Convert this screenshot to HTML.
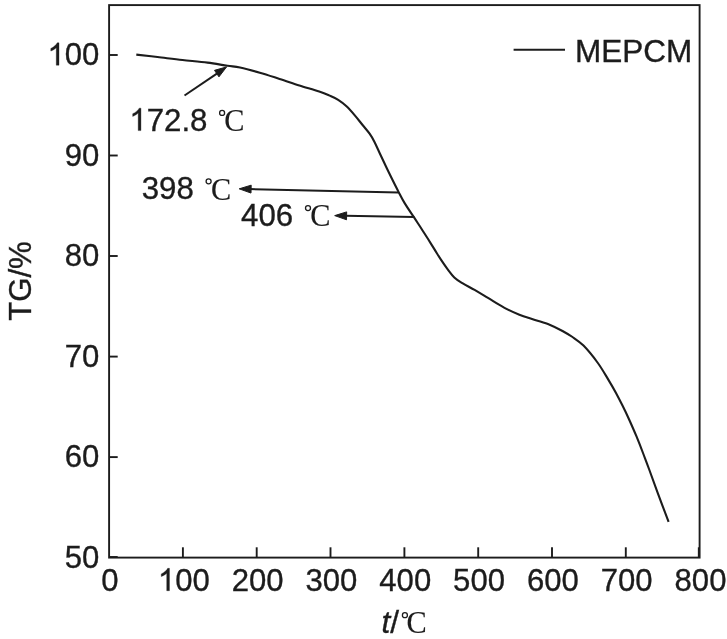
<!DOCTYPE html>
<html><head><meta charset="utf-8"><title>TG curve</title>
<style>
html,body{margin:0;padding:0;background:#fff;}
body{width:727px;height:639px;overflow:hidden;}
svg{display:block;will-change:transform;}
text{font-family:"Liberation Sans",sans-serif;fill:#1c1c1c;stroke:#1c1c1c;stroke-width:0.35px;font-kerning:none;}
.g{fill:#1c1c1c;stroke:#1c1c1c;stroke-width:22;}
.s{font-family:"Liberation Serif",serif;stroke-width:0.15px;}
.i{font-style:italic;}
.l{fill:none;stroke:#1c1c1c;stroke-width:1.9;}
.a{fill:#1c1c1c;stroke:#1c1c1c;stroke-width:1;stroke-linejoin:round;}
</style></head><body>
<svg width="727" height="639" viewBox="0 0 727 639">
<rect width="727" height="639" fill="#fff"/>
<g class="l">
<rect x="109.1" y="5.1" width="590.5" height="552.5"/>
<path d="M182.9,557.6 V547.3"/>
<path d="M256.7,557.6 V547.3"/>
<path d="M330.5,557.6 V547.3"/>
<path d="M404.4,557.6 V547.3"/>
<path d="M478.2,557.6 V547.3"/>
<path d="M552.0,557.6 V547.3"/>
<path d="M625.8,557.6 V547.3"/>
<path d="M109.1,457.1 H117.7"/>
<path d="M109.1,356.6 H117.7"/>
<path d="M109.1,256.0 H117.7"/>
<path d="M109.1,155.5 H117.7"/>
<path d="M109.1,55.0 H117.7"/>
<path d="M109.1,557.0 H117.7"/>
<path d="M698.8,557.6 V547.3"/>
</g>
<path class="l" style="stroke-width:2.1" d="M136.3,54.6 C139.8,55.0 149.8,56.1 157.5,57.0 C165.2,57.9 174.2,59.1 182.5,60.0 C190.8,60.9 200.0,61.6 207.5,62.6 C215.0,63.6 222.1,65.0 227.5,65.8 C232.9,66.6 234.6,66.3 240.0,67.5 C245.4,68.7 253.2,70.8 259.8,72.7 C266.4,74.6 273.0,76.8 279.6,78.9 C286.2,81.0 292.8,83.4 299.4,85.5 C306.0,87.6 314.2,89.9 319.2,91.6 C324.1,93.2 325.9,94.0 329.1,95.4 C332.3,96.8 335.3,98.0 338.2,99.8 C341.1,101.6 343.7,103.7 346.5,106.3 C349.3,108.9 352.1,112.2 354.8,115.4 C357.6,118.6 360.5,122.5 363.0,125.5 C365.5,128.6 367.7,130.9 369.6,133.7 C371.5,136.4 372.9,138.8 374.5,142.0 C376.1,145.2 377.6,148.6 379.5,152.7 C381.4,156.8 383.9,162.1 386.1,166.7 C388.3,171.3 390.7,176.2 392.7,180.3 C394.7,184.4 396.2,187.3 398.2,191.2 C400.2,195.0 402.2,199.1 404.8,203.4 C407.4,207.7 411.1,213.0 413.9,217.2 C416.6,221.4 419.0,224.9 421.3,228.5 C423.6,232.1 425.7,235.3 427.9,238.8 C430.1,242.3 432.3,245.9 434.5,249.4 C436.7,252.9 438.9,256.6 441.1,259.9 C443.3,263.2 445.5,266.4 447.7,269.3 C449.9,272.2 451.8,275.0 454.3,277.4 C456.8,279.8 459.4,281.3 462.8,283.4 C466.2,285.5 470.4,287.5 474.6,289.9 C478.8,292.3 483.0,294.9 488.0,297.9 C493.0,300.9 499.3,305.0 504.5,307.8 C509.7,310.6 514.4,312.7 519.4,314.7 C524.4,316.7 529.2,318.0 534.2,319.7 C539.2,321.4 544.9,322.8 549.6,324.7 C554.3,326.6 558.7,328.9 562.5,331.0 C566.3,333.1 569.0,334.6 572.5,337.0 C576.0,339.4 579.3,341.4 583.5,345.6 C587.7,349.9 593.3,356.8 597.5,362.5 C601.7,368.2 605.5,375.0 608.6,380.1 C611.7,385.2 613.7,388.7 616.0,393.0 C618.3,397.3 620.4,401.4 622.6,405.8 C624.8,410.2 626.7,414.1 629.0,419.2 C631.3,424.3 634.1,430.6 636.4,436.2 C638.7,441.8 640.9,447.4 643.0,453.0 C645.1,458.6 646.8,462.9 649.2,469.5 C651.6,476.1 654.4,483.9 657.6,492.6 C660.8,501.3 666.8,517.0 668.6,521.9" stroke-linejoin="round"/>
<path class="l" d="M513.6,49.8 H565"/>
<text x="575.0" y="62.3" font-size="31.5">MEPCM</text>
<text x="101.35" y="590.70" font-size="31.1">0</text>
<path class="g" transform="translate(157.87,590.70) scale(0.01519,-0.01519)" d="M763,0H583V1147Q518,1085 412.5,1023Q307,961 223,930V1104Q374,1175 487,1276Q600,1377 647,1472H763Z"/><text x="175.16" y="590.70" font-size="31.1">00</text>
<text x="231.68" y="590.70" font-size="31.1">200</text>
<text x="305.49" y="590.70" font-size="31.1">300</text>
<text x="379.31" y="590.70" font-size="31.1">400</text>
<text x="453.12" y="590.70" font-size="31.1">500</text>
<text x="526.93" y="590.70" font-size="31.1">600</text>
<text x="600.74" y="590.70" font-size="31.1">700</text>
<text x="674.56" y="590.70" font-size="31.1">800</text>
<text x="64.71" y="567.80" font-size="31.1">50</text>
<text x="64.71" y="467.28" font-size="31.1">60</text>
<text x="64.71" y="366.76" font-size="31.1">70</text>
<text x="64.71" y="266.24" font-size="31.1">80</text>
<text x="64.71" y="165.72" font-size="31.1">90</text>
<path class="g" transform="translate(47.41,65.20) scale(0.01519,-0.01519)" d="M763,0H583V1147Q518,1085 412.5,1023Q307,961 223,930V1104Q374,1175 487,1276Q600,1377 647,1472H763Z"/><text x="64.71" y="65.20" font-size="31.1">00</text>
<text transform="translate(31.4,281) rotate(-90)" font-size="31.2" text-anchor="middle">TG/%</text>
<text x="381.4" y="632.5" font-size="31.6"><tspan class="i">t</tspan>/</text>
<circle cx="404.9" cy="615.2" r="2.5" fill="none" stroke="#1c1c1c" stroke-width="1.3"/><text class="s" transform="translate(406.6,632.9) scale(0.93,1.0)" font-size="32.6">C</text>
<path class="g" transform="translate(129.30,130.60) scale(0.01526,-0.01526)" d="M763,0H583V1147Q518,1085 412.5,1023Q307,961 223,930V1104Q374,1175 487,1276Q600,1377 647,1472H763Z"/><text x="146.68" y="130.60" font-size="31.25">72.8</text>
<circle cx="222.1" cy="112.9" r="2.5" fill="none" stroke="#1c1c1c" stroke-width="1.3"/><text class="s" transform="translate(224.2,131.1) scale(0.93,1.0)" font-size="32.6">C</text>
<text x="141.70" y="199.00" font-size="31.25">398</text>
<circle cx="208.6" cy="181.3" r="2.5" fill="none" stroke="#1c1c1c" stroke-width="1.3"/><text class="s" transform="translate(211.1,199.5) scale(0.93,1.0)" font-size="32.6">C</text>
<text x="241.00" y="225.70" font-size="31.25">406</text>
<circle cx="308.0" cy="208.1" r="2.5" fill="none" stroke="#1c1c1c" stroke-width="1.3"/><text class="s" transform="translate(310.3,226.2) scale(0.93,1.0)" font-size="32.6">C</text>
<path class="l" style="stroke-width:2.0" d="M184.5,95.5 L218.0,72.8"/><path class="a" d="M226.59,66.92 L218.96,76.87 L214.53,70.34 Z"/>
<path class="l" style="stroke-width:2.0" d="M398.3,192.6 L249.6,189.1"/><path class="a" d="M239.20,188.83 L251.19,185.16 L251.00,193.06 Z"/>
<path class="l" style="stroke-width:2.0" d="M414.3,217.0 L345.1,215.8"/><path class="a" d="M334.70,215.62 L346.67,211.88 L346.53,219.77 Z"/>
</svg>
</body></html>
